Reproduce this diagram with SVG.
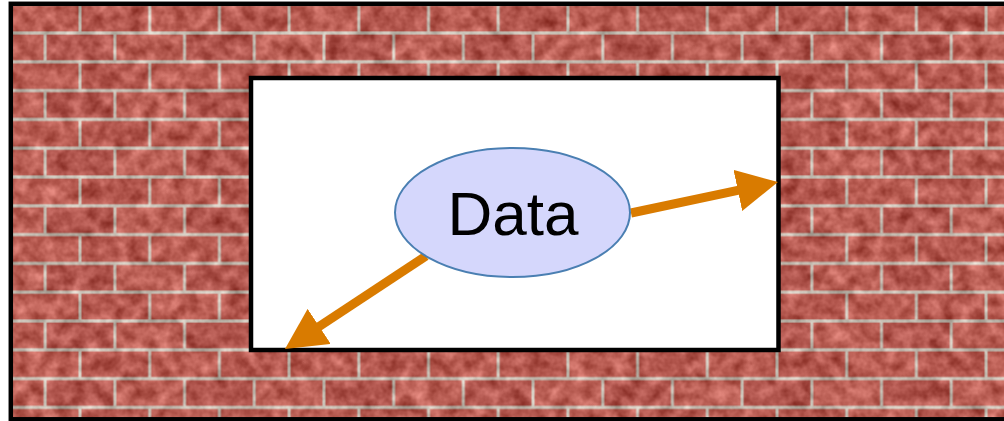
<svg xmlns="http://www.w3.org/2000/svg" width="1004" height="421" viewBox="0 0 1004 421">
  <defs>
    <pattern id="bricks" patternUnits="userSpaceOnUse" x="10.3" y="4.2" width="139.4" height="57.6">
      <rect width="139.4" height="57.6" fill="#bcb5aa"/>
      <rect x="1.5" y="1.6" width="66.7" height="25.6" fill="#b3574d"/>
      <rect x="71.2" y="1.6" width="66.7" height="25.6" fill="#ad5148"/>
      <rect x="36.35" y="30.4" width="66.7" height="25.6" fill="#aa4f47"/>
      <rect x="106.05" y="30.4" width="33.35" height="25.6" fill="#b55a50"/>
      <rect x="0" y="30.4" width="33.35" height="25.6" fill="#b55a50"/>
    </pattern>
    <filter id="tex" x="0" y="0" width="100%" height="100%" color-interpolation-filters="sRGB">
      <feGaussianBlur in="SourceGraphic" stdDeviation="0.7" result="b"/>
      <feTurbulence type="fractalNoise" baseFrequency="0.07" numOctaves="3" seed="7" result="n"/>
      <feColorMatrix in="n" type="matrix" values="1 0 0 0 0  1 0 0 0 0  1 0 0 0 0  0 0 0 0 1" result="g"/>
      <feComposite in="b" in2="g" operator="arithmetic" k1="0" k2="1" k3="0.45" k4="-0.2"/>
    </filter>
    <marker id="head" markerUnits="userSpaceOnUse" viewBox="0 0 41 42" markerWidth="41" markerHeight="42" refX="6" refY="21" orient="auto">
      <path d="M0,0 L41,21 L0,42 z" fill="#d97b00"/>
    </marker>
    <style>
      .frame { fill: none; stroke: #000; stroke-width: 4.5; }
      .conn { stroke: #d97b00; stroke-width: 9; fill: none; marker-end: url(#head); }
      .node { fill: #d5d7fc; stroke: #4a7fb2; stroke-width: 2; }
      .label { font-family: "Liberation Sans", Arial, sans-serif; font-size: 62px; fill: #000; }
    </style>
  </defs>
  <rect x="0" y="0" width="1004" height="421" fill="#ffffff"/>
  <g id="wall">
    <rect x="10.5" y="3.5" width="1000" height="416" fill="url(#bricks)" filter="url(#tex)"/>
    <rect class="frame" x="10.8" y="3.8" width="1000" height="415.5"/>
  </g>
  <g id="window">
    <rect x="251" y="78" width="527.5" height="272" fill="#ffffff" stroke="#000" stroke-width="4.5"/>
  </g>
  <g id="connectors">
    <path class="conn" d="M631,213 L743.7,189.2"/>
    <path class="conn" d="M426,256 L314.2,329.7"/>
  </g>
  <g id="node-data">
    <ellipse class="node" cx="512.5" cy="212.5" rx="117.5" ry="64.5"/>
    <text class="label" x="513" y="235" text-anchor="middle">Data</text>
  </g>
</svg>
